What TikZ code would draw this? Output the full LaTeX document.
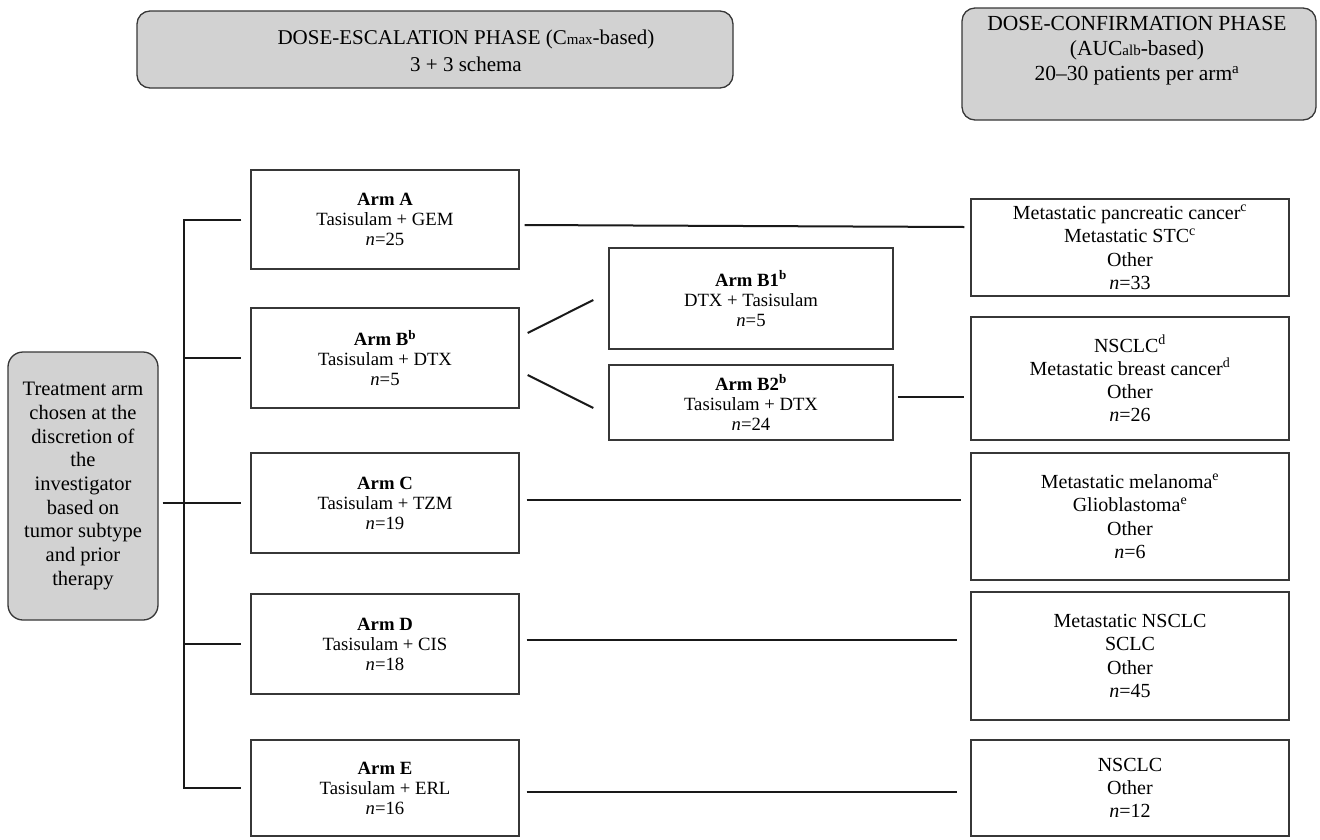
\documentclass[tikz,border=0pt]{standalone}
\usepackage{fontspec}
\setmainfont{Liberation Serif}
\usetikzlibrary{calc}
\definecolor{boxgray}{RGB}{210,210,210}
\definecolor{edgegray}{RGB}{55,55,55}
\tikzset{
  hdrbox/.style={draw=edgegray, line width=1.3pt, fill=boxgray, rounded corners=13pt, inner sep=0pt},
  hdrtext/.style={align=center, inner sep=0pt},
  leftbox/.style={draw=edgegray, line width=1.3pt, fill=boxgray, rounded corners=15pt, align=center, inner sep=0pt,
    minimum width=150, font=\fontsize{20.5}{23.7}\selectfont},
  armbox/.style={draw=edgegray, line width=1.3pt, fill=white, align=center, inner sep=0pt,
    minimum width=268, font=\fontsize{18.7}{20}\selectfont},
  subbox/.style={armbox, minimum width=284},
  resbox/.style={draw=edgegray, line width=1.3pt, fill=white, align=center, inner sep=0pt,
    minimum width=318, font=\fontsize{20}{23.3}\selectfont},
  conn/.style={line width=2pt, black!90}
}
\begin{document}
\begin{tikzpicture}[x=1pt,y=-1pt]
\useasboundingbox (0,0) rectangle (1320,839);
% headers
\node[hdrbox, minimum width=596, minimum height=77] (h1) at (435,49.5) {};
\node[hdrtext, font=\fontsize{21}{27}\selectfont] (h1t) at (466,51)
  {DOSE-ESCALATION PHASE (C{\fontsize{15}{15}\selectfont max}-based)\\3 + 3 schema};
\node[hdrbox, minimum width=354, minimum height=112] (h2) at (1139,64) {};
\node[hdrtext, font=\fontsize{21.5}{25}\selectfont] (h2t) at (1137,51)
  {DOSE-CONFIRMATION PHASE\\(AUC{\fontsize{15}{15}\selectfont alb}-based)\\20--30 patients per arm\textsuperscript{a}};
% left box
\node[leftbox, minimum height=268] (L) at (83,486)
  {Treatment arm\\chosen at the\\discretion of\\the\\investigator\\based on\\tumor subtype\\and prior\\therapy};
% arm boxes
\node[armbox, minimum height=99] (A) at (385,219.5) {\textbf{Arm A}\\Tasisulam + GEM\\\textit{n}=25};
\node[armbox, minimum height=100] (B) at (385,358) {\textbf{Arm B\textsuperscript{b}}\\Tasisulam + DTX\\\textit{n}=5};
\node[armbox, minimum height=100] (C) at (385,503) {\textbf{Arm C}\\Tasisulam + TZM\\\textit{n}=19};
\node[armbox, minimum height=100] (D) at (385,644) {\textbf{Arm D}\\Tasisulam + CIS\\\textit{n}=18};
\node[armbox, minimum height=96] (E) at (385,788) {\textbf{Arm E}\\Tasisulam + ERL\\\textit{n}=16};
\node[subbox, minimum height=101] (B1) at (751,298.5) {\textbf{Arm B1\textsuperscript{b}}\\DTX + Tasisulam\\\textit{n}=5};
\node[subbox, minimum height=75] (B2) at (751,402.5) {\textbf{Arm B2\textsuperscript{b}}\\Tasisulam + DTX\\\textit{n}=24};
% result boxes
\node[resbox, minimum height=97] (R1) at (1130,247.5)
  {Metastatic pancreatic cancer\textsuperscript{c}\\Metastatic STC\textsuperscript{c}\\Other\\\textit{n}=33};
\node[resbox, minimum height=123] (R2) at (1130,378.5)
  {NSCLC\textsuperscript{d}\\Metastatic breast cancer\textsuperscript{d}\\Other\\\textit{n}=26};
\node[resbox, minimum height=127] (R3) at (1130,516.5)
  {Metastatic melanoma\textsuperscript{e}\\Glioblastoma\textsuperscript{e}\\Other\\\textit{n}=6};
\node[resbox, minimum height=128] (R4) at (1130,656)
  {Metastatic NSCLC\\SCLC\\Other\\\textit{n}=45};
\node[resbox, minimum height=96] (R5) at (1130,788)
  {NSCLC\\Other\\\textit{n}=12};
% trunk
\coordinate (trunk) at (184,0);
\draw[conn] ($(A.west)+(-9,0)$) -- (trunk |- A.west) -- (trunk |- E.west) -- ($(E.west)+(-9,0)$);
\draw[conn] (trunk |- B.west) -- ($(B.west)+(-9,0)$);
\draw[conn] (trunk |- D.west) -- ($(D.west)+(-9,0)$);
\coordinate (lc) at ($(L.east |- C.west)+(4,0)$);
\draw[conn] (lc) -- ($(C.west)+(-9,0)$);
% arm connectors
\draw[conn] ($(A.east)+(5,5.5)$) -- ($(R1.west)+(-6,-20.5)$);
\draw[conn] ($(B.east)+(8,-25)$) -- ($(B1.west)+(-15,1.5)$);
\draw[conn] ($(B.east)+(8,17)$) -- ($(B2.west)+(-15,5.5)$);
\draw[conn] ($(B2.east)+(4,-5.5)$) -- ($(R2.west)+(-6,18.5)$);
\draw[conn] ($(C.east)+(7,-3)$) -- ($(R3.west)+(-9,-16.5)$);
\draw[conn] ($(D.east)+(7,-4)$) -- ($(R4.west)+(-13,-16)$);
\draw[conn] ($(E.east)+(7,4)$) -- ($(R5.west)+(-13,4)$);
\end{tikzpicture}
\end{document}
